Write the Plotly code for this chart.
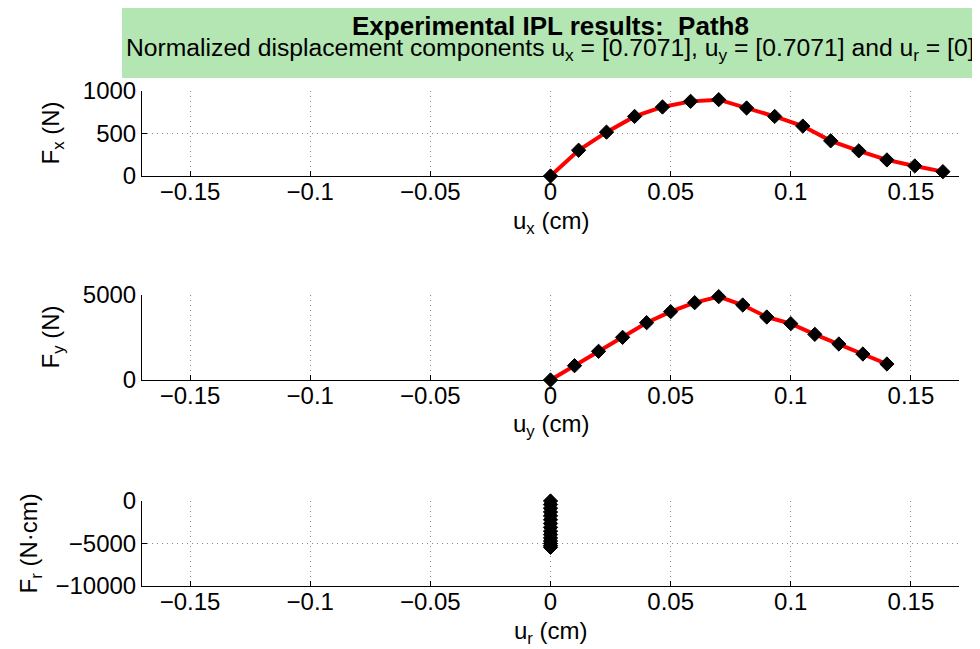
import plotly.graph_objects as go

# ---- data ----
ux = [0, 0.0117, 0.0233, 0.035, 0.0466, 0.0583, 0.07, 0.0816, 0.0933, 0.105, 0.1166, 0.1283, 0.14, 0.1516, 0.1633]
fx = [0, 303, 516, 701, 812, 878, 898, 800, 701, 587, 414, 296, 189, 118, 51]

uy = [0, 0.01, 0.02, 0.03, 0.04, 0.05, 0.06, 0.07, 0.08, 0.09, 0.10, 0.11, 0.12, 0.13, 0.14]
fy = [0, 843, 1686, 2510, 3373, 4020, 4549, 4902, 4412, 3706, 3314, 2686, 2118, 1529, 941]

ur = [0, 0, 0, 0, 0, 0, 0, 0, 0, 0, 0, 0, 0, 0, 0]
fr = [0, -420, -850, -1300, -1750, -2200, -2650, -3100, -3550, -3950, -4350, -4700, -5000, -5250, -5450]

x_ticks = [-0.15, -0.1, -0.05, 0, 0.05, 0.1, 0.15]
x_ticktext = ["\u22120.15", "\u22120.1", "\u22120.05", "0", "0.05", "0.1", "0.15"]
y1_ticks = [0, 500, 1000]
y1_ticktext = ["0", "500", "1000"]
y2_ticks = [0, 5000]
y2_ticktext = ["0", "5000"]
y3_ticks = [-10000, -5000, 0]
y3_ticktext = ["\u221210000", "\u22125000", "0"]

title_main = "<b>Experimental IPL results:\u00a0 Path8</b>"
title_sub = ("Normalized displacement components u<sub>x</sub> = [0.7071], "
             "u<sub>y</sub> = [0.7071] and u<sub>r</sub> = [0]")
ylabels = ["F<sub>x</sub> (N)", "F<sub>y</sub> (N)", "F<sub>r</sub> (N·cm)"]
xlabels = ["u<sub>x</sub> (cm)", "u<sub>y</sub> (cm)", "u<sub>r</sub> (cm)"]

# ---- layout geometry (screen pixels; page body has an 8px margin) ----
OFF = 8
FW, FH = 980 - OFF, 649 - OFF
FONT = "Liberation Sans, Arial, Helvetica, sans-serif"
x_left, x_right = 142, 959
panels = [(91, 176), (295, 380), (501, 586)]

def px(x):
    return (x - OFF) / FW

def py(y):
    return 1 - (y - OFF) / FH

fig = go.Figure()
series = [(ux, fx), (uy, fy), (ur, fr)]
for i, (xs, ys) in enumerate(series):
    sfx = "" if i == 0 else str(i + 1)
    fig.add_trace(go.Scatter(
        x=xs, y=ys, mode="lines+markers",
        line=dict(color="#ff0000", width=4),
        marker=dict(symbol="diamond", size=11, color="black",
                    line=dict(color="black", width=1)),
        xaxis="x" + sfx, yaxis="y" + sfx, showlegend=False,
        cliponaxis=False,
    ))

yranges = [[0, 1000], [0, 5000], [-10000, 0]]
ytickss = [(y1_ticks, y1_ticktext), (y2_ticks, y2_ticktext), (y3_ticks, y3_ticktext)]
axis_common = dict(
    showline=True, linecolor="black", linewidth=1,
    ticks="inside", ticklen=5, tickcolor="black",
    showgrid=True, gridcolor="#888888", griddash="1px,4px", gridwidth=1,
    zeroline=False, mirror=False, automargin=False,
    tickfont=dict(family=FONT, size=24, color="black"),
)
layout = dict(
    width=FW, height=FH,
    margin=dict(l=0, r=0, t=0, b=0, pad=0, autoexpand=False),
    paper_bgcolor="white", plot_bgcolor="white",
    showlegend=False,
    font=dict(family=FONT, color="black"),
)
for i in range(3):
    sfx = "" if i == 0 else str(i + 1)
    top, bot = panels[i]
    layout["xaxis" + sfx] = dict(
        axis_common, domain=[px(x_left), px(x_right)], range=[-0.17, 0.17],
        tickvals=x_ticks, ticktext=x_ticktext, anchor="y" + sfx,
        ticklabelstandoff=-6,
    )
    layout["yaxis" + sfx] = dict(
        axis_common, domain=[py(bot), py(top)], range=yranges[i],
        tickvals=ytickss[i][0], ticktext=ytickss[i][1], anchor="x" + sfx,
    )
fig.update_layout(**layout)

# title band
fig.add_shape(type="rect", xref="paper", yref="paper",
              x0=px(122), x1=px(978), y0=py(78), y1=py(6),
              fillcolor="rgb(179,230,179)", line=dict(width=0), layer="below")
fig.add_annotation(text=title_main, xref="paper", yref="paper",
                   x=px(550), y=py(26), showarrow=False,
                   xanchor="center", yanchor="middle",
                   font=dict(family=FONT, size=26, color="black"))
fig.add_annotation(text=title_sub, xref="paper", yref="paper",
                   x=px(550), y=py(49), showarrow=False,
                   xanchor="center", yanchor="middle",
                   font=dict(family=FONT, size=24.7, color="black"))

# axis labels
ylab_x = [52, 52, 30]
for i in range(3):
    top, bot = panels[i]
    fig.add_annotation(text=ylabels[i], xref="paper", yref="paper",
                       x=px(ylab_x[i]), y=py((top + bot) / 2),
                       showarrow=False, textangle=-90,
                       xanchor="center", yanchor="middle",
                       font=dict(family=FONT, size=24, color="black"))
    fig.add_annotation(text=xlabels[i], xref="paper", yref="paper",
                       x=px((x_left + x_right) / 2), y=py(bot + 46),
                       showarrow=False, xanchor="center", yanchor="middle",
                       font=dict(family=FONT, size=24, color="black"))

fig.write_html("out.html")
